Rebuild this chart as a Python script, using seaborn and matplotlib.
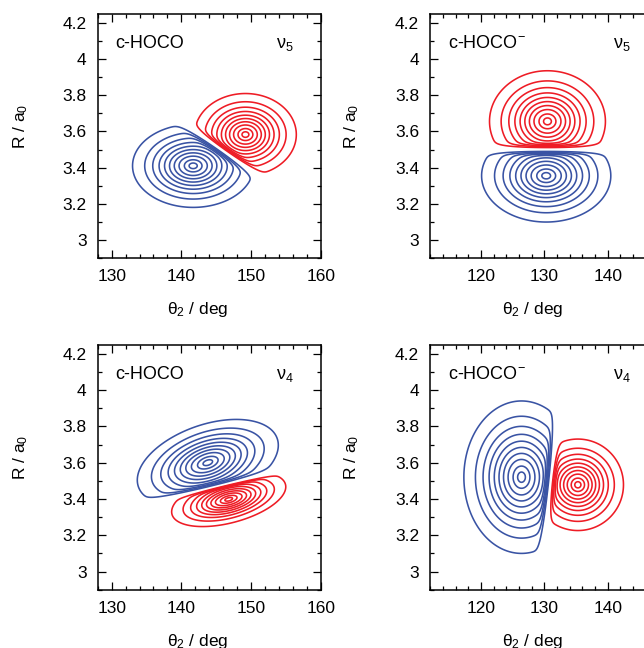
import numpy as np
import matplotlib
matplotlib.use("Agg")
import matplotlib.pyplot as plt
from matplotlib.ticker import MultipleLocator, FuncFormatter
import seaborn as sns

sns.set_style("ticks")
plt.rcParams["font.family"] = ["Liberation Sans", "DejaVu Sans"]
plt.rcParams["mathtext.fontset"] = "custom"
plt.rcParams["mathtext.rm"] = "Liberation Sans"
plt.rcParams["mathtext.it"] = "Liberation Sans:italic"
for key in ["text.color", "axes.labelcolor", "xtick.color", "ytick.color", "axes.edgecolor"]:
    plt.rcParams[key] = "black"

RED = "#ee1c25"
BLUE = "#3953a4"

# panels: top-left, top-right, bottom-left, bottom-right
species = ["c-HOCO", "c-HOCO$\\mathregular{^{-}}$", "c-HOCO", "c-HOCO$\\mathregular{^{-}}$"]
modes = ["ν$\\mathregular{_5}$", "ν$\\mathregular{_5}$", "ν$\\mathregular{_4}$", "ν$\\mathregular{_4}$"]
theta_limits = [(128, 160), (112, 148), (128, 160), (112, 148)]
r_limits = (2.9, 4.25)

# nodal line of each wavefunction: a point (theta, R) and the normal angle (deg)
node_points = [(145.5, 3.507), (130.5, 3.50), (146.0, 3.476), (131.0, 3.50)]
node_normal = [56, 90, -77, -7]

# lobes: centre, reach of the outermost contour (deg, a0), tilt (deg)
pos_centres = [(149.2, 3.583), (130.5, 3.656), (146.8, 3.398), (135.3, 3.478)]
pos_reach = [(7.3, 0.227), (9.15, 0.28), (8.4, 0.13), (7.2, 0.252)]
pos_tilt = [0, 0, 14, 0]
neg_centres = [(141.7, 3.41), (130.3, 3.355), (143.8, 3.60), (126.4, 3.52)]
neg_reach = [(8.7, 0.23), (10.2, 0.256), (10.5, 0.21), (9.1, 0.42)]
neg_tilt = [0, 0, 18, 0]

contour_fractions = [0.1, 0.2, 0.3, 0.4, 0.5, 0.6, 0.7, 0.8, 0.9, 0.97]

# axes boxes in pixels: left, top, width, height
boxes = [(97.7, 14, 223, 244), (430.3, 14, 228, 244),
         (97.7, 344.7, 223, 245), (430.3, 344.7, 228, 245)]

FIG_W, FIG_H = 644, 648
NODE_SOFT = 0.14       # width of the node damping, relative to node-lobe distance
OUTER = 2.303 ** (1 / 1.6)


def frame(i, X, Y):
    phi = np.radians(node_normal[i])
    u = (X - node_points[i][0]) / 10.0
    w = (Y - node_points[i][1]) / 0.4
    return u * np.cos(phi) + w * np.sin(phi)


def lobe(i, X, Y, centre, reach, tilt, side):
    du = (X - centre[0]) / 10.0
    dw = (Y - centre[1]) / 0.4
    a = np.radians(tilt)
    p = du * np.cos(a) + dw * np.sin(a)
    q = -du * np.sin(a) + dw * np.cos(a)
    rho = OUTER * np.hypot(p / (reach[0] / 10.0), q / (reach[1] / 0.4))
    env = np.exp(-rho ** 1.6)

    t = frame(i, X, Y) * side
    tc = abs(frame(i, np.array(centre[0]), np.array(centre[1])))
    damp = 1.0 - np.exp(-(t / (NODE_SOFT * tc)) ** 2)
    val = np.where(t > 0, damp * env, 0.0)
    return val / val.max()


fig = plt.figure(figsize=(FIG_W / 100, FIG_H / 100), dpi=100)

for i, (left, top, width, height) in enumerate(boxes):
    ax = fig.add_axes([left / FIG_W, 1 - (top + height) / FIG_H, width / FIG_W, height / FIG_H])

    xs = np.linspace(theta_limits[i][0], theta_limits[i][1], 700)
    ys = np.linspace(r_limits[0], r_limits[1], 700)
    X, Y = np.meshgrid(xs, ys)
    pos = lobe(i, X, Y, pos_centres[i], pos_reach[i], pos_tilt[i], 1)
    neg = lobe(i, X, Y, neg_centres[i], neg_reach[i], neg_tilt[i], -1)

    ax.contour(X, Y, neg, levels=contour_fractions, colors=BLUE, linewidths=1.15)
    ax.contour(X, Y, pos, levels=contour_fractions, colors=RED, linewidths=1.15)

    ax.set_xlim(theta_limits[i])
    ax.set_ylim(r_limits)
    ax.xaxis.set_major_locator(MultipleLocator(10))
    ax.xaxis.set_minor_locator(MultipleLocator(2))
    ax.yaxis.set_major_locator(MultipleLocator(0.2))
    ax.yaxis.set_minor_locator(MultipleLocator(0.1))
    ax.yaxis.set_major_formatter(FuncFormatter(lambda v, p: f"{v:g}"))
    ax.tick_params(which="both", direction="in", top=True, right=True,
                   labelsize=12.5, width=0.9, color="black")
    ax.tick_params(which="major", length=6, pad=8)
    ax.tick_params(which="minor", length=3)
    for sp in ax.spines.values():
        sp.set_linewidth(1.1)

    ax.set_xlabel("θ$\\mathregular{_2}$ / deg", fontsize=12.5)
    ax.set_ylabel("R / a$\\mathregular{_0}$", fontsize=12.5)
    ax.xaxis.set_label_coords(0.45, -0.213)
    ax.yaxis.set_label_coords(-0.345, 0.54)
    ax.xaxis.label.set_va("center")
    ax.yaxis.label.set_va("center")

    ax.text(0.078, 0.86, species[i], transform=ax.transAxes, fontsize=13, va="baseline")
    ax.text(0.80, 0.86, modes[i], transform=ax.transAxes, fontsize=13, va="baseline")

fig.savefig("out.png", dpi=100)
